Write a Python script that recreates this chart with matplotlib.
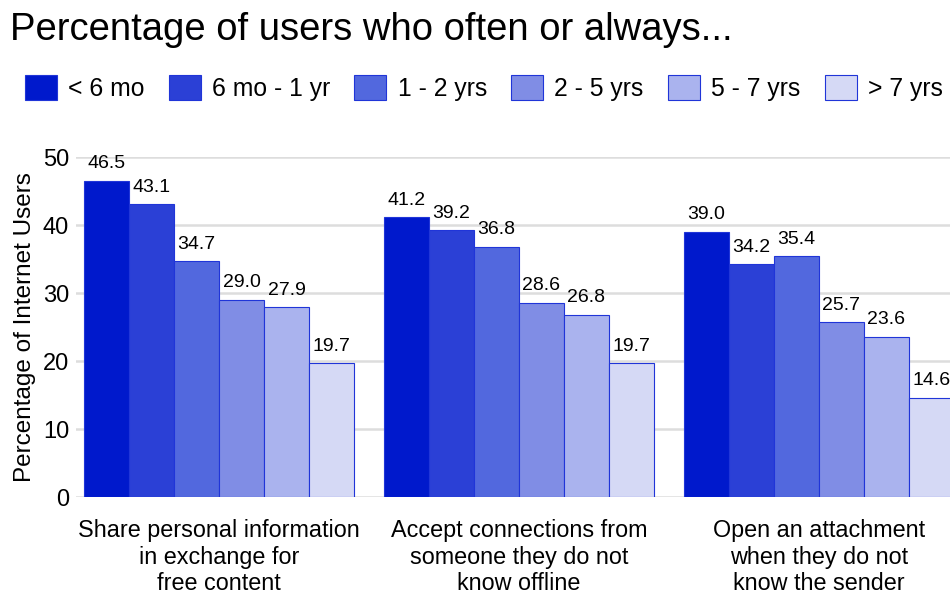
import numpy as np
import matplotlib
matplotlib.use("Agg")
import matplotlib.pyplot as plt
from matplotlib.patches import Patch

plt.rcParams['font.family'] = ['Liberation Sans', 'DejaVu Sans']

categories = ["Share personal information\nin exchange for\nfree content",
              "Accept connections from\nsomeone they do not\nknow offline",
              "Open an attachment\nwhen they do not\nknow the sender"]
series = ["< 6 mo", "6 mo - 1 yr", "1 - 2 yrs", "2 - 5 yrs", "5 - 7 yrs", "> 7 yrs"]
values = [
    [46.5, 41.2, 39.0],
    [43.1, 39.2, 34.2],
    [34.7, 36.8, 35.4],
    [29.0, 28.6, 25.7],
    [27.9, 26.8, 23.6],
    [19.7, 19.7, 14.6],
]
colors = ["#0019CC", "#2B40D6", "#5268DE", "#808DE5", "#AAB3EE", "#D5D9F5"]
edge = "#2035D8"

fig = plt.figure(figsize=(9.5, 5.95), dpi=100)
ax = fig.add_axes([0.08, 0.1647, 0.9326, 0.5714])

x = np.arange(len(categories))
w = 0.15
for i, (name, vals) in enumerate(zip(series, values)):
    pos = x - 0.375 + i * w
    bars = ax.bar(pos, vals, width=w, color=colors[i], edgecolor=edge, linewidth=0.8, label=name, zorder=3)
    for b, v in zip(bars, vals):
        ax.annotate(f"{v:.1f}", (b.get_x() + b.get_width() / 2, v), xytext=(0, 6),
                    textcoords="offset points", ha="center", va="bottom", fontsize=14)

ax.set_xlim(-0.477, 2.477)
ax.set_ylim(0, 50)
ax.set_yticks([0, 10, 20, 30, 40, 50])
ax.set_xticks(x)
ax.set_xticklabels(categories, fontsize=16.8, linespacing=1.2)
ax.tick_params(axis="y", labelsize=17, length=0, pad=5)
ax.tick_params(axis="x", length=0, pad=16)
ax.grid(axis="y", color="#dddddd", linewidth=1.8, zorder=0)
ax.set_axisbelow(True)
for s in ax.spines.values():
    s.set_visible(False)
ax.set_ylabel("Percentage of Internet Users", fontsize=17.5, labelpad=5)

fig.text(0.011, 0.95, "Percentage of users who often or always...", fontsize=27.5, va="center", ha="left")

handles = [Patch(facecolor=c, edgecolor=edge, linewidth=0.8) for c in colors]
fig.legend(handles, series, loc="center left", bbox_to_anchor=(0.0155, 0.852), ncol=6,
           frameon=False, fontsize=17.8, handlelength=1.3, handleheight=1.2,
           handletextpad=0.45, columnspacing=0.98, borderaxespad=0)

fig.savefig("out.png", dpi=100)
